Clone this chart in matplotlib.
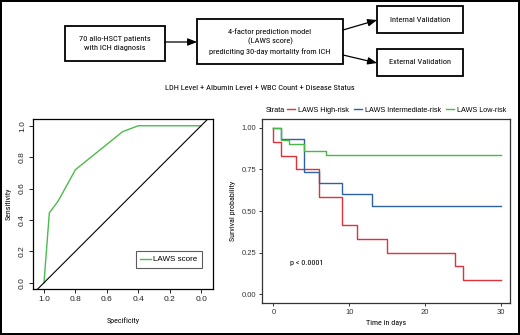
import os
import matplotlib
matplotlib.use("Agg")
import matplotlib.pyplot as plt
from matplotlib import font_manager
from matplotlib.font_manager import FontProperties
from matplotlib.patches import Rectangle

# fonts: look for a narrow / condensed face for the labels
installed = {f.name for f in font_manager.fontManager.ttflist}
SANS = "Liberation Sans" if "Liberation Sans" in installed else "DejaVu Sans"
plt.rcParams["font.family"] = [SANS, "DejaVu Sans"]

narrow_path = None
for key in ["liberationsansnarrow-regular", "robotocondensed-regular", "dejavusanscondensed.ttf",
            "opensans_condensed", "condensed-regular", "narrow"]:
    for f in font_manager.fontManager.ttflist:
        fn = os.path.basename(f.fname).lower()
        if key in fn and "bold" not in fn and "italic" not in fn and "oblique" not in fn:
            narrow_path = f.fname
            break
    if narrow_path:
        break


def nfont(size):
    if narrow_path:
        return FontProperties(fname=narrow_path, size=size)
    return FontProperties(family="Roboto" if "Roboto" in installed else SANS, size=size * 0.88)


# ROC data (specificity, sensitivity)
roc_spec = [1.0, 0.966, 0.91, 0.80, 0.50, 0.40, 0.0]
roc_sens = [0.0, 0.445, 0.52, 0.72, 0.962, 1.0, 1.0]
roc_ticks = [1.0, 0.8, 0.6, 0.4, 0.2, 0.0]

# Kaplan-Meier data
high_t = [0, 0, 1, 3, 6, 9, 11, 15, 24, 25, 30]
high_s = [1.0, 0.917, 0.833, 0.75, 0.583, 0.417, 0.333, 0.25, 0.167, 0.083, 0.083]
inter_t = [0, 1, 4, 6, 9, 13, 30]
inter_s = [1.0, 0.933, 0.733, 0.667, 0.60, 0.533, 0.533]
low_t = [0, 1, 2, 4, 7, 30]
low_s = [1.0, 0.93, 0.905, 0.862, 0.838, 0.838]
km_labels = ["LAWS High-risk", "LAWS Intermediate-risk", "LAWS Low-risk"]
km_colors = ["#e0323c", "#2f62a0", "#45bb45"]

W, H = 520, 335
fig = plt.figure(figsize=(W / 100, H / 100), dpi=100)
fig.patch.set_edgecolor("black")
fig.patch.set_linewidth(1.5)


def rect(x0, y0, x1, y1):
    return [x0 / W, 1 - y1 / H, (x1 - x0) / W, (y1 - y0) / H]


# ---------- flowchart (pixel overlay) ----------
ov = fig.add_axes([0, 0, 1, 1])
ov.set_xlim(0, W)
ov.set_ylim(H, 0)
ov.axis("off")

boxes = [
    (65, 26, 165, 61, "70 allo-HSCT patients\nwith ICH diagnosis"),
    (197, 19, 343, 64, "4-factor prediction model\n(LAWS score)\nprediciting 30-day mortality from ICH"),
    (377, 6, 463, 33, "Internal Validation"),
    (377, 49, 463, 76, "External Validation"),
]
for x0, y0, x1, y1, txt in boxes:
    ov.add_patch(Rectangle((x0, y0), x1 - x0, y1 - y0, fill=False, ec="black", lw=1.3))
    ov.text((x0 + x1) / 2, (y0 + y1) / 2, txt, ha="center", va="center",
            fontproperties=nfont(6.0), linespacing=1.45)

arrow = dict(arrowstyle="-|>,head_length=0.55,head_width=0.22", color="black", lw=0.9,
             shrinkA=0, shrinkB=0)
ov.annotate("", xy=(197, 42), xytext=(165, 42), arrowprops=arrow)
ov.annotate("", xy=(377, 20), xytext=(343, 30), arrowprops=arrow)
ov.annotate("", xy=(377, 63), xytext=(343, 55), arrowprops=arrow)
ov.text(260, 88, "LDH Level + Albumin Level + WBC Count + Disease Status",
        ha="center", va="center", fontproperties=nfont(6.0))

# ---------- ROC ----------
ax1 = fig.add_axes(rect(33, 119, 213, 289))
ax1.plot(roc_spec, roc_sens, color="#4cbb4c", lw=1.0, label="LAWS score")
ax1.plot([1.2, -0.2], [-0.2, 1.2], color="black", lw=0.8)
ax1.set_xlim(1.07, -0.076)
ax1.set_ylim(-0.04, 1.043)
ax1.set_xticks(roc_ticks)
ax1.set_xticklabels([f"{t:.1f}" for t in roc_ticks])
ax1.set_yticks(roc_ticks)
ax1.set_yticklabels([f"{t:.1f}" for t in roc_ticks], rotation=90, va="center")
ax1.tick_params(labelsize=6, length=3, width=0.7, pad=2, colors="#222222")
for s in ax1.spines.values():
    s.set_linewidth(0.9)
ax1.set_xlabel("Specificity", fontproperties=nfont(5.8), labelpad=10)
ax1.set_ylabel("Sensitivity", fontproperties=nfont(5.8), labelpad=5)
leg1 = ax1.legend(loc="lower right", bbox_to_anchor=(0.939, 0.124), fontsize=5.8,
                  handlelength=1.3, handletextpad=0.3, fancybox=False,
                  edgecolor="#333333", borderpad=0.55, borderaxespad=0)
leg1.get_frame().set_linewidth(0.8)

# ---------- Kaplan-Meier ----------
ax2 = fig.add_axes(rect(262, 119, 510, 303))
for t, s, c, lab in zip([high_t, inter_t, low_t], [high_s, inter_s, low_s], km_colors, km_labels):
    ax2.plot(t, s, drawstyle="steps-post", color=c, lw=1.0, label=lab)
ax2.set_xlim(-1.5, 31.2)
ax2.set_ylim(-0.054, 1.054)
ax2.set_xticks([0, 10, 20, 30])
ax2.set_yticks([0, 0.25, 0.5, 0.75, 1.0])
ax2.set_yticklabels(["0.00", "0.25", "0.50", "0.75", "1.00"])
ax2.tick_params(labelsize=5.5, length=2.5, width=0.7, pad=1.5, colors="#333333")
for s in ax2.spines.values():
    s.set_linewidth(0.9)
    s.set_color("#333333")
ax2.set_xlabel("Time in days", fontproperties=nfont(5.8), labelpad=3)
ax2.set_ylabel("Survival probability", fontproperties=nfont(5.8), labelpad=4)
ax2.text(2.2, 0.186, "p < 0.0001", fontproperties=nfont(5.9), va="center")

fig.text(266 / W, 1 - 110 / H, "Strata", fontsize=5.2, va="center")
ax2.legend(loc="center left", bbox_to_anchor=(287 / W, 1 - 110 / H),
           bbox_transform=fig.transFigure, ncol=3, frameon=False, fontsize=5.2,
           handlelength=1.15, handletextpad=0.4, columnspacing=0.65, borderpad=0,
           borderaxespad=0)

fig.savefig("out.png", dpi=100)
